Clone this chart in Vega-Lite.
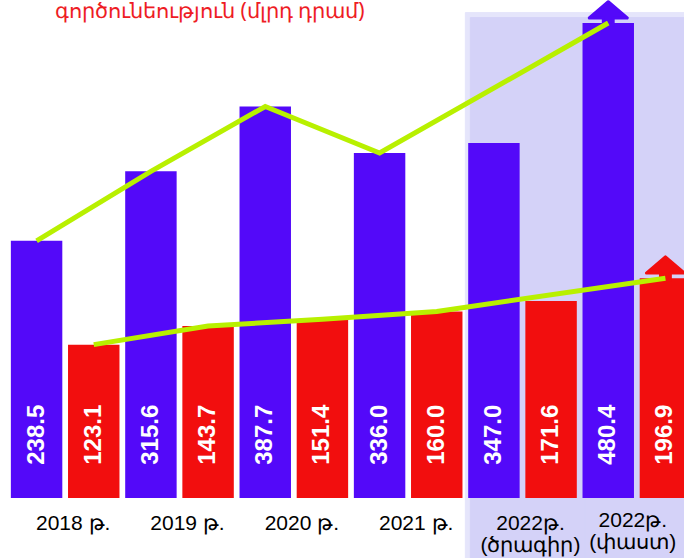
{
  "$schema": "https://vega.github.io/schema/vega-lite/v6.json",
  "width": 686,
  "height": 498,
  "autosize": {"type": "none"},
  "padding": {"left": 8, "right": -10, "top": 0, "bottom": 60},
  "background": "white",
  "title": {
    "text": "գործունեություն (մլրդ դրամ)",
    "anchor": "start",
    "orient": "top",
    "frame": "group",
    "font": "Noto Sans",
    "fontSize": 21,
    "fontWeight": "normal",
    "color": "#EE1C24",
    "baseline": "alphabetic",
    "offset": 0,
    "dx": 47,
    "dy": 39
  },
  "data": {
    "values": [
      {"year": "2018 թ.", "series": "1", "value": 238.5},
      {"year": "2018 թ.", "series": "2", "value": 123.1},
      {"year": "2019 թ.", "series": "1", "value": 315.6},
      {"year": "2019 թ.", "series": "2", "value": 143.7},
      {"year": "2020 թ.", "series": "1", "value": 387.7},
      {"year": "2020 թ.", "series": "2", "value": 151.4},
      {"year": "2021 թ.", "series": "1", "value": 336.0},
      {"year": "2021 թ.", "series": "2", "value": 160.0},
      {"year": "2022թ. (ծրագիր)", "series": "1", "value": 347.0},
      {"year": "2022թ. (ծրագիր)", "series": "2", "value": 171.6},
      {"year": "2022թ. (փաստ)", "series": "1", "value": 480.4},
      {"year": "2022թ. (փաստ)", "series": "2", "value": 196.9}
    ]
  },
  "config": {"view": {"stroke": null}},
  "encoding": {
    "x": {
      "field": "year",
      "type": "nominal",
      "sort": null,
      "scale": {
        "domain": ["2018 թ.", "2019 թ.", "2020 թ.", "2021 թ.", "2022թ. (ծրագիր)", "2022թ. (փաստ)"],
        "paddingInner": 0,
        "paddingOuter": 0
      },
      "axis": {
        "title": null,
        "domain": false,
        "ticks": false,
        "zindex": 2,
        "labelAngle": 0,
        "labelFont": "Liberation Sans",
        "labelFontSize": 21,
        "labelColor": "#000000",
        "labelPadding": {"condition": {"test": "datum.value == '2022թ. (փաստ)'", "value": 11}, "value": 14},
        "labelLineHeight": 22,
        "labelOffset": {"condition": {"test": "datum.value == '2022թ. (փաստ)'", "value": -4}, "value": 8},
        "labelOverlap": false,
        "labelLimit": 0,
        "labelBound": false,
        "labelExpr": "split(replace(datum.label, ' (', '|('), '|')"
      }
    }
  },
  "layer": [
    {
      "transform": [{"filter": "datum.series == '1' && indexof(datum.year, '2022') == 0"}],
      "mark": {"type": "bar", "color": "#E5E5FB", "stroke": "#E5E5FB", "strokeWidth": 1},
      "encoding": {
        "y": {"datum": 492, "type": "quantitative", "scale": {"domain": [-47.3, 506], "nice": false, "zero": false}, "axis": null},
        "y2": {"datum": -140}
      }
    },
    {
      "transform": [{"filter": "datum.series == '1' && indexof(datum.year, '2022') == 0"}],
      "mark": {"type": "bar", "color": "#D4D2F8", "stroke": "#D4D2F8", "strokeWidth": 1, "xOffset": 5, "x2Offset": 5, "yOffset": 5, "y2Offset": 5},
      "encoding": {
        "y": {"datum": 492, "type": "quantitative"},
        "y2": {"datum": -140}
      }
    },
    {
      "mark": {"type": "bar"},
      "encoding": {
        "xOffset": {"field": "series", "type": "nominal", "scale": {"paddingInner": 0.1, "paddingOuter": 0.05}},
        "y": {"field": "value", "type": "quantitative"},
        "y2": {"datum": -47.3},
        "color": {"field": "series", "type": "nominal", "scale": {"domain": ["1", "2"], "range": ["#5309F9", "#F20E0E"]}, "legend": null}
      }
    },
    {
      "transform": [{"filter": "datum.year == '2022թ. (փաստ)'"}],
      "mark": {
        "type": "point",
        "shape": "M0,-1.12L1,-0.27L0.26,-0.27L0.26,0.1L-0.26,0.1L-0.26,-0.27L-1,-0.27Z",
        "size": 1444,
        "filled": true,
        "opacity": 1,
        "strokeWidth": 3,
        "strokeJoin": "round"
      },
      "encoding": {
        "xOffset": {"field": "series", "type": "nominal"},
        "y": {"field": "value", "type": "quantitative"},
        "color": {"field": "series", "type": "nominal", "legend": null},
        "stroke": {"field": "series", "type": "nominal", "scale": {"domain": ["1", "2"], "range": ["#5309F9", "#F20E0E"]}, "legend": null}
      }
    },
    {
      "transform": [{"filter": "datum.year != '2022թ. (ծրագիր)'"}],
      "mark": {"type": "line", "color": "#B8F000", "strokeWidth": 5},
      "encoding": {
        "xOffset": {"field": "series", "type": "nominal"},
        "y": {"field": "value", "type": "quantitative"},
        "detail": {"field": "series", "type": "nominal"}
      }
    },
    {
      "mark": {
        "type": "text",
        "angle": 270,
        "align": "center",
        "baseline": "middle",
        "color": "#FFFFFF",
        "font": "Liberation Sans",
        "fontSize": 24,
        "fontWeight": "bold"
      },
      "encoding": {
        "xOffset": {"field": "series", "type": "nominal"},
        "y": {"datum": 23, "type": "quantitative"},
        "text": {"field": "value", "type": "quantitative", "format": ".1f"}
      }
    }
  ]
}
